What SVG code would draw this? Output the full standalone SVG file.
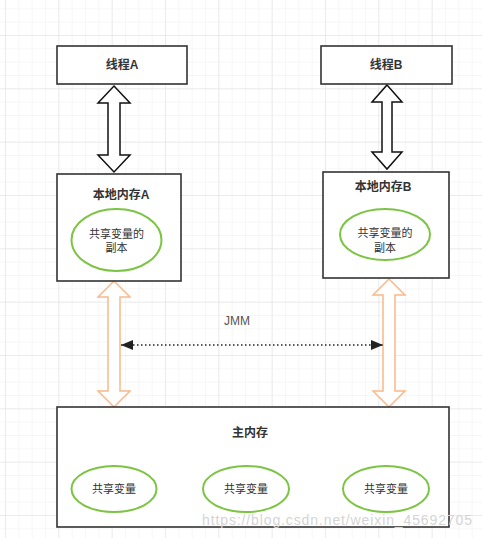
<svg xmlns="http://www.w3.org/2000/svg" width="482" height="538" viewBox="0 0 482 538">
<defs>
<pattern id="minor" patternUnits="userSpaceOnUse" x="5" y="8.33" width="13.333" height="13.333">
<path d="M0,0 V13.333 M0,0 H13.333" fill="none" stroke="#ededed" stroke-width="1"/>
</pattern>
<pattern id="major" patternUnits="userSpaceOnUse" x="5" y="35" width="53.333" height="53.333">
<path d="M0,0 V53.333 M0,0 H53.333" fill="none" stroke="#e0e0e0" stroke-width="1"/>
</pattern>
<marker id="ah" viewBox="0 0 12 10" refX="12" refY="5" markerWidth="12" markerHeight="10" markerUnits="userSpaceOnUse" orient="auto-start-reverse">
<path d="M0,0 L12,5 L0,10 Z" fill="#222"/>
</marker>
<style>
.box{fill:#ffffff;stroke:#333333;stroke-width:1.6}
.ell{fill:#ffffff;stroke:#7cc443;stroke-width:2}
.title{font-family:"Liberation Sans","Noto Sans CJK SC",sans-serif;font-size:12px;font-weight:bold;fill:#333333;text-anchor:middle}
.txt{font-family:"Liberation Sans","Noto Sans CJK SC",sans-serif;font-size:11px;fill:#333333;text-anchor:middle}
.barrow{fill:#ffffff;stroke:#111111;stroke-width:1.5;stroke-linejoin:miter}
.oarrow{fill:#ffffff;stroke:#f9b98a;stroke-width:1.5;stroke-linejoin:miter}
</style>
</defs>
<rect width="482" height="538" fill="#ffffff"/>
<rect width="482" height="538" fill="url(#minor)"/>
<rect width="482" height="538" fill="url(#major)"/>

<g id="connectors">
<path class="barrow" d="M114,86 L130,103 L120,103 L120,155 L130,155 L114,172 L98,155 L108,155 L108,103 L98,103 Z"/>
<path class="barrow" d="M387,85 L402,102 L392,102 L392,152 L402,152 L387,169 L372,152 L382,152 L382,102 L372,102 Z"/>
<path class="oarrow" d="M114,281 L130,297 L120,297 L120,391 L130,391 L114,407 L98,391 L108,391 L108,297 L98,297 Z"/>
<path class="oarrow" d="M389,279 L405,295 L395,295 L395,391 L405,391 L389,407 L373,391 L383,391 L383,295 L373,295 Z"/>
<line x1="121" y1="345" x2="383" y2="345" stroke="#222" stroke-width="1.5" stroke-dasharray="1.5,2.5" marker-start="url(#ah)" marker-end="url(#ah)"/>
<text x="237" y="325" font-family="'Liberation Sans',sans-serif" font-size="12" fill="#555555" text-anchor="middle">JMM</text>
</g>

<g id="threadA">
<rect class="box" x="57" y="46" width="130" height="38"/>
<text class="title" x="122" y="69">线程A</text>
</g>
<g id="threadB">
<rect class="box" x="321" y="46" width="131" height="38"/>
<text class="title" x="386" y="69">线程B</text>
</g>

<g id="localA">
<rect class="box" x="57" y="174" width="124" height="107"/>
<text class="title" x="121" y="199">本地内存A</text>
<ellipse class="ell" cx="116.5" cy="240" rx="45" ry="31"/>
<text class="txt" x="116.5" y="238">共享变量的</text>
<text class="txt" x="116.5" y="252">副本</text>
</g>

<g id="localB">
<rect class="box" x="323" y="172" width="126" height="106"/>
<text class="title" x="383" y="191">本地内存B</text>
<ellipse class="ell" cx="385" cy="234.5" rx="45" ry="25.5"/>
<text class="txt" x="385" y="237">共享变量的</text>
<text class="txt" x="385" y="252">副本</text>
</g>

<g id="mainMemory">
<rect class="box" x="57" y="407" width="392" height="120"/>
<text class="title" x="250" y="437">主内存</text>
<ellipse class="ell" cx="114" cy="489" rx="42.5" ry="23"/>
<text class="txt" x="114" y="493">共享变量</text>
<ellipse class="ell" cx="246" cy="489" rx="43" ry="23"/>
<text class="txt" x="246" y="493">共享变量</text>
<ellipse class="ell" cx="386" cy="489" rx="43" ry="23"/>
<text class="txt" x="386" y="493">共享变量</text>
</g>

<text x="202" y="525" font-family="'Liberation Sans',sans-serif" font-size="14" fill="#d4d4d4" textLength="270">https://blog.csdn.net/weixin_45692705</text>
</svg>
